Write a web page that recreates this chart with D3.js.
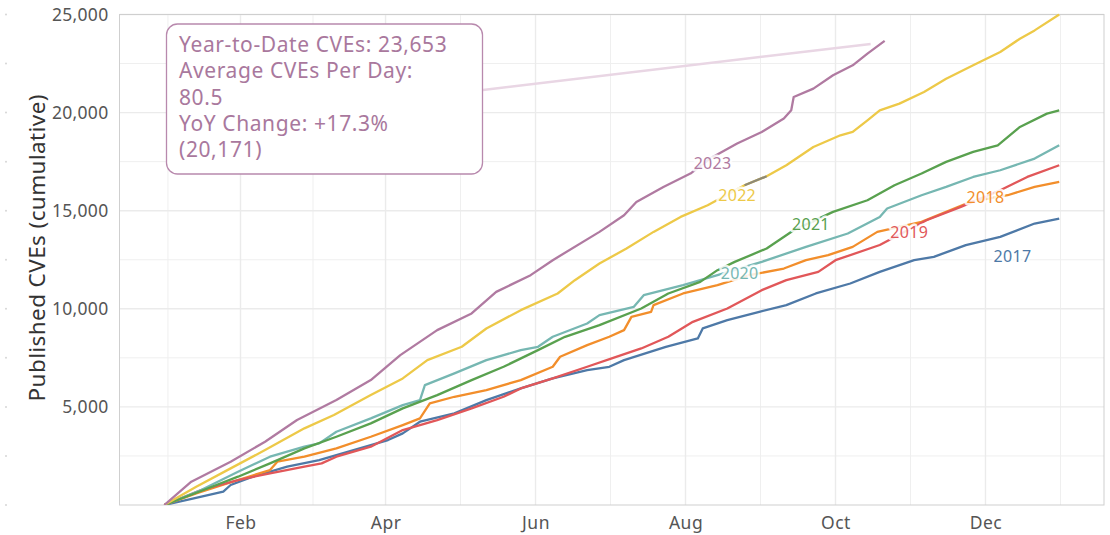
<!DOCTYPE html>
<html>
<head>
<meta charset="utf-8">
<script src="https://cdn.jsdelivr.net/npm/d3@7"></script>
<style>
  body { margin: 0; background: #fff; }
  svg { display: block; font-family: "Noto Sans", sans-serif; }
</style>
</head>
<body>
<svg id="chart" width="1110" height="535"></svg>
<script>

// day of year (0 = Jan 1) and cumulative published CVEs
const cve2017 = [[0,0],[12,340],[24,679],[27,1019],[36,1443],[50,1952],[63,2292],[77,2801],[91,3310],[97,3650],[104,4244],[118,4669],[131,5348],[145,5942],[158,6451],[172,6876],[181,7045],[187,7385],[204,8064],[217,8489],[219,9000],[229,9422],[242,9846],[253,10186],[265,10781],[279,11290],[291,11883],[305,12478],[313,12647],[326,13242],[340,13666],[354,14346],[364,14600]];
const cve2018 = [[0,0],[13,594],[30,1273],[43,1782],[46,2206],[57,2461],[70,2886],[84,3480],[97,4074],[104,4414],[108,5178],[118,5517],[131,5857],[145,6366],[158,7045],[161,7555],[172,8149],[181,8573],[187,8913],[190,9591],[198,9846],[199,10186],[211,10781],[225,11205],[238,11714],[252,12053],[261,12478],[270,12733],[280,13157],[290,13920],[308,14430],[318,14939],[328,15449],[343,15788],[354,16211],[364,16466]];
const cve2019 = [[0,0],[15,764],[30,1273],[43,1613],[57,1952],[64,2122],[70,2461],[84,2971],[97,3820],[111,4329],[125,4924],[138,5517],[145,5942],[158,6451],[172,7045],[182,7469],[194,7979],[205,8573],[215,9337],[229,10016],[243,10950],[253,11459],[266,11883],[273,12478],[291,13250],[310,14515],[324,15193],[340,16043],[351,16720],[364,17316]];
const cve2020 = [[0,0],[15,764],[30,1697],[43,2461],[57,2971],[63,3141],[70,3735],[84,4414],[97,5093],[104,5348],[106,6111],[118,6706],[131,7385],[145,7894],[152,8064],[158,8573],[172,9252],[177,9677],[191,10101],[195,10696],[211,11205],[225,11714],[243,12392],[261,13157],[278,13838],[291,14684],[294,15111],[308,15788],[318,16211],[329,16720],[340,17062],[354,17657],[364,18335]];
const cve2021 = [[0,0],[16,764],[30,1443],[43,2122],[57,2886],[70,3480],[84,4160],[97,4924],[111,5602],[125,6366],[138,7045],[152,7894],[163,8573],[177,9167],[194,10018],[205,10781],[218,11373],[225,11969],[232,12391],[245,13073],[256,14006],[272,14939],[286,15534],[297,16298],[308,16893],[318,17487],[329,17997],[339,18335],[348,19268],[359,19949],[364,20117]];
const cve2022 = [[0,0],[13,932],[27,1867],[41,2801],[57,3906],[69,4584],[84,5602],[97,6451],[107,7385],[121,8064],[131,8998],[145,9931],[160,10781],[167,11459],[177,12309],[188,13073],[199,13920],[210,14684],[221,15279],[236,16298],[245,16756],[253,17316],[264,18250],[275,18844],[280,19013],[286,19608],[291,20117],[299,20457],[309,21050],[318,21730],[329,22409],[340,23087],[348,23766],[354,24190],[364,25000]];
const cve2023 = [[0,0],[11,1187],[27,2206],[41,3224],[54,4329],[70,5348],[84,6366],[96,7640],[111,8913],[125,9763],[135,10864],[149,11714],[158,12478],[177,13920],[187,14770],[192,15447],[203,16211],[214,16893],[222,17657],[233,18421],[243,19013],[252,19694],[255,20117],[256,20795],[264,21220],[272,21900],[280,22409],[286,23005],[293,23653]];

const years = [2017, 2018, 2019, 2020, 2021, 2022, 2023];
const seriesValues = [cve2017, cve2018, cve2019, cve2020, cve2021, cve2022, cve2023];
const colors = ["#4e79a7", "#f28e2b", "#e15759", "#76b7b2", "#59a14f", "#edc948", "#b07aa1"];
// where each year label sits: [day, value]
const labelPos = [[345,12681], [334,15700], [303,13919], [234,11833], [263,14312], [233,15805], [223,17430]];
// short stretch of 2022 drawn in grey
const greyDays = [236, 245];

const yTicks = [5000, 10000, 15000, 20000, 25000];
const yMinor = [2500, 7500, 12500, 17500, 22500];

const annotationLines = [
  "Year-to-Date CVEs: 23,653",
  "Average CVEs Per Day:",
  "80.5",
  "YoY Change: +17.3%",
  "(20,171)"
];

const width = 1110, height = 535;
const panel = { left: 119.5, right: 1104, top: 14.5, bottom: 505 };

const base = new Date(2023, 0, 1);
const toDate = d => d3.timeHour.offset(base, Math.round(d * 24));

const x = d3.scaleTime()
  .domain([toDate(-18.2), toDate(364 + 18.2)])
  .range([panel.left, panel.right]);
const y = d3.scaleLinear()
  .domain([0, 25000])
  .range([panel.bottom, panel.top]);

const svg = d3.select("#chart");

// x breaks: every two months from Feb, minors halfway between
let xMajor = d3.timeMonth.range(new Date(2023, 1, 1), new Date(2024, 0, 2), 2);
let xMinor = [];
xMajor.forEach((d, i) => {
  let next = xMajor[i + 1] || new Date(2 * d - xMajor[i - 1]);
  let prev = i === 0 ? new Date(2 * d - xMajor[1]) : null;
  if (prev) xMinor.push(new Date((+prev + +d) / 2));
  xMinor.push(new Date((+d + +next) / 2));
});

const grid = svg.append("g");
grid.selectAll(".vminor").data(xMinor).join("line")
  .attr("x1", d => x(d)).attr("x2", d => x(d))
  .attr("y1", panel.top).attr("y2", panel.bottom)
  .attr("stroke", "#efefef").attr("stroke-width", 1);
grid.selectAll(".hminor").data(yMinor).join("line")
  .attr("x1", panel.left).attr("x2", panel.right)
  .attr("y1", d => y(d)).attr("y2", d => y(d))
  .attr("stroke", "#efefef").attr("stroke-width", 1);
grid.selectAll(".vmajor").data(xMajor).join("line")
  .attr("x1", d => x(d)).attr("x2", d => x(d))
  .attr("y1", panel.top).attr("y2", panel.bottom)
  .attr("stroke", "#ebebeb").attr("stroke-width", 1.4);
grid.selectAll(".hmajor").data(yTicks).join("line")
  .attr("x1", panel.left).attr("x2", panel.right)
  .attr("y1", d => y(d)).attr("y2", d => y(d))
  .attr("stroke", "#ebebeb").attr("stroke-width", 1.4);

svg.append("rect")
  .attr("x", panel.left).attr("y", panel.top)
  .attr("width", panel.right - panel.left).attr("height", panel.bottom - panel.top)
  .attr("fill", "none").attr("stroke", "#cfcfcf").attr("stroke-width", 1);

// faint marks down the left edge
svg.append("g").selectAll("circle").data(yTicks.concat(yMinor, [0])).join("circle")
  .attr("cx", 6).attr("cy", d => y(d)).attr("r", 1)
  .attr("fill", "#d6d6d6");

// axes
const xAxis = svg.append("g")
  .attr("transform", `translate(0,${panel.bottom})`)
  .call(d3.axisBottom(x).tickValues(xMajor).tickFormat(d3.timeFormat("%b")).tickSize(0).tickPadding(12));
xAxis.select(".domain").remove();
xAxis.selectAll("text").attr("font-size", 17.5).attr("fill", "#555")
  .attr("font-family", "Noto Sans").attr("letter-spacing", 0.5);

const yAxis = svg.append("g")
  .attr("transform", `translate(${panel.left},0)`)
  .call(d3.axisLeft(y).tickValues(yTicks).tickFormat(d3.format(",")).tickSize(0).tickPadding(11));
yAxis.select(".domain").remove();
yAxis.selectAll("text").attr("font-size", 17.5).attr("fill", "#555")
  .attr("font-family", "Noto Sans").attr("letter-spacing", 0.3);

svg.append("text")
  .attr("transform", `translate(36,${(panel.top + panel.bottom) / 2 - 12}) rotate(-90)`)
  .attr("text-anchor", "middle").attr("dominant-baseline", "central")
  .attr("font-size", 22.5).attr("fill", "#333").attr("letter-spacing", 0.4)
  .text("Published CVEs (cumulative)");

// lines
svg.append("clipPath").attr("id", "clip").append("rect")
  .attr("x", panel.left).attr("y", panel.top - 1)
  .attr("width", panel.right - panel.left).attr("height", panel.bottom - panel.top + 1);

const line = d3.line().x(d => x(toDate(d[0]))).y(d => y(d[1]));
const plot = svg.append("g").attr("clip-path", "url(#clip)");

// connector from the annotation box to the end of 2023
const last2023 = cve2023[cve2023.length - 1];
plot.append("line")
  .attr("x1", 483).attr("y1", 90)
  .attr("x2", x(toDate(last2023[0])) - 14).attr("y2", y(last2023[1]) + 3)
  .attr("stroke", "#e9d6e4").attr("stroke-width", 2.5);

years.forEach((yr, i) => {
  plot.append("path")
    .datum(seriesValues[i])
    .attr("d", line)
    .attr("fill", "none")
    .attr("stroke", colors[i])
    .attr("stroke-width", 2.3)
    .attr("stroke-linejoin", "round");
});

plot.append("path")
  .datum(cve2022.filter(d => d[0] >= greyDays[0] && d[0] <= greyDays[1]))
  .attr("d", line)
  .attr("fill", "none").attr("stroke", "#8e8a76").attr("stroke-width", 2.3);

// year labels
svg.append("g").selectAll("text").data(years).join("text")
  .attr("x", (d, i) => x(toDate(labelPos[i][0])))
  .attr("y", (d, i) => y(labelPos[i][1]))
  .attr("text-anchor", "middle").attr("dominant-baseline", "central")
  .attr("font-size", 16).attr("letter-spacing", 0.3)
  .attr("fill", (d, i) => colors[i])
  .attr("stroke", "rgba(255,255,255,0.85)").attr("stroke-width", 5)
  .attr("stroke-linejoin", "round").attr("paint-order", "stroke")
  .text(d => d);

// annotation box
const note = svg.append("g");
note.append("rect")
  .attr("x", 166.5).attr("y", 24).attr("width", 316).attr("height", 150)
  .attr("rx", 11).attr("fill", "#fff")
  .attr("stroke", "#b889ad").attr("stroke-width", 1.3);
note.selectAll("text").data(annotationLines).join("text")
  .attr("x", 179).attr("y", (d, i) => 52 + i * 26.3)
  .attr("font-size", 21).attr("letter-spacing", 0.6).attr("fill", "#a9789d")
  .text(d => d);

</script>
</body>
</html>
